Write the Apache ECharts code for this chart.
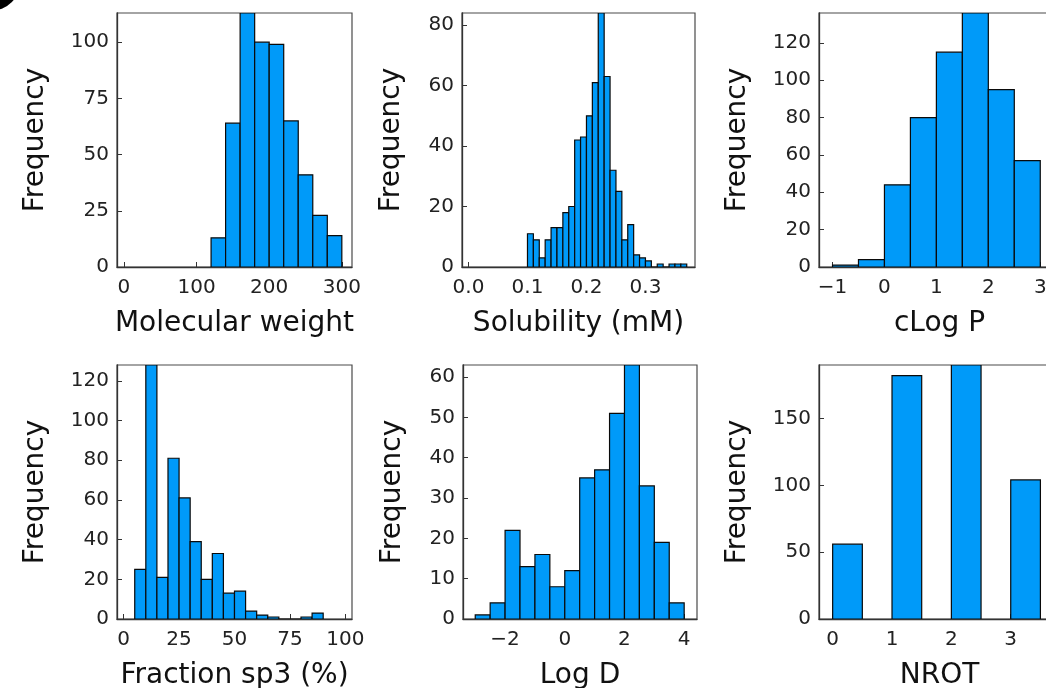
<!DOCTYPE html>
<html>
<head>
<meta charset="utf-8">
<title>Property distributions</title>
<script src="https://cdn.jsdelivr.net/npm/echarts@6/dist/echarts.min.js"></script>
<style>
  html, body { margin: 0; padding: 0; background: #ffffff; }
  #chart { width: 1046px; height: 688px; }
</style>
</head>
<body>
<div id="chart"></div>
<script>
// Histogram bin edges (n + 1 values) and counts (n values) per property
const mwEdges = [120, 140, 160, 180, 200, 220, 240, 260, 280, 300];
const mwCounts = [13, 64, 113, 100, 99, 65, 41, 23, 14];

const solEdges = [0.10, 0.11, 0.12, 0.13, 0.14, 0.15, 0.16, 0.17, 0.18, 0.19, 0.20, 0.21, 0.22, 0.23,
  0.24, 0.25, 0.26, 0.27, 0.28, 0.29, 0.30, 0.31, 0.32, 0.33, 0.34, 0.35, 0.36, 0.37];
const solCounts = [11, 9, 3, 9, 13, 13, 18, 20, 42, 43, 50, 61, 84, 63, 32, 25, 9, 14, 4, 3, 2, 0, 1, 0, 1, 1, 1];

const clogpEdges = [-1, -0.5, 0, 0.5, 1, 1.5, 2, 2.5, 3];
const clogpCounts = [1, 4, 44, 80, 115, 136, 95, 57];

const fsp3Edges = [5, 10, 15, 20, 25, 30, 35, 40, 45, 50, 55, 60, 65, 70, 75, 80, 85, 90];
const fsp3Counts = [25, 128, 21, 81, 61, 39, 20, 33, 13, 14, 4, 2, 1, 0, 0, 1, 3];

const logdEdges = [-3, -2.5, -2, -1.5, -1, -0.5, 0, 0.5, 1, 1.5, 2, 2.5, 3, 3.5, 4];
const logdCounts = [1, 4, 22, 13, 16, 8, 12, 35, 37, 51, 63, 33, 19, 4];

// NROT is discrete: each bar spans [left, right)
const nrotLeft = [0, 1, 2, 3];
const nrotRight = [0.5, 1.5, 2.5, 3.5];
const nrotCounts = [56, 182, 190, 104];

// Tick values
const mwXTicks = [0, 100, 200, 300];
const mwYTicks = [0, 25, 50, 75, 100];
const solXTicks = [0, 0.1, 0.2, 0.3];
const solYTicks = [0, 20, 40, 60, 80];
const clogpXTicks = [-1, 0, 1, 2, 3];
const clogpYTicks = [0, 20, 40, 60, 80, 100, 120];
const fsp3XTicks = [0, 25, 50, 75, 100];
const fsp3YTicks = [0, 20, 40, 60, 80, 100, 120];
const logdXTicks = [-2, 0, 2, 4];
const logdYTicks = [0, 10, 20, 30, 40, 50, 60];
const nrotXTicks = [0, 1, 2, 3];
const nrotYTicks = [0, 50, 100, 150];

function binsFromEdges(edges, counts) {
  return counts.map((c, i) => [edges[i], edges[i + 1], c]);
}
function binsFromBounds(lefts, rights, counts) {
  return counts.map((c, i) => [lefts[i], rights[i], c]);
}

const FONT = 'DejaVu Sans';
const BAR_FILL = '#009AF9';
const INK = '#222222';
const TICK_SIZE = 20;
const TITLE_SIZE = 28;

const panels = [
  { bins: binsFromEdges(mwEdges, mwCounts), xMin: -9.5, xMax: 314, xTicks: mwXTicks, yTicks: mwYTicks,
    xDigits: 0, xName: 'Molecular weight', grid: { left: 117, top: 13, width: 235, height: 254 }, yGap: 67 },
  { bins: binsFromEdges(solEdges, solCounts), xMin: -0.011, xMax: 0.384, xTicks: solXTicks, yTicks: solYTicks,
    xDigits: 1, xName: 'Solubility (mM)', grid: { left: 462, top: 13, width: 233, height: 254 }, yGap: 56 },
  { bins: binsFromEdges(clogpEdges, clogpCounts), xMin: -1.26, xMax: 3.38, xTicks: clogpXTicks, yTicks: clogpYTicks,
    xDigits: 0, xName: 'cLog P', grid: { left: 819, top: 13, width: 241, height: 254 }, yGap: 67 },
  { bins: binsFromEdges(fsp3Edges, fsp3Counts), xMin: -3, xMax: 103, xTicks: fsp3XTicks, yTicks: fsp3YTicks,
    xDigits: 0, xName: 'Fraction sp3 (%)', grid: { left: 117, top: 365, width: 235, height: 254 }, yGap: 67 },
  { bins: binsFromEdges(logdEdges, logdCounts), xMin: -3.41, xMax: 4.43, xTicks: logdXTicks, yTicks: logdYTicks,
    xDigits: 0, xName: 'Log D', grid: { left: 463, top: 365, width: 234, height: 254 }, yGap: 56 },
  { bins: binsFromBounds(nrotLeft, nrotRight, nrotCounts), xMin: -0.23, xMax: 3.83, xTicks: nrotXTicks, yTicks: nrotYTicks,
    xDigits: 0, xName: 'NROT', grid: { left: 819, top: 365, width: 241, height: 254 }, yGap: 67 }
];

function fmt(v, digits) {
  return v.toFixed(digits).replace('-', '\u2212');
}

function renderBar(params, api) {
  const top = api.coord([api.value(0), api.value(2)]);
  const base = api.coord([api.value(1), 0]);
  return {
    type: 'rect',
    shape: { x: top[0], y: top[1], width: base[0] - top[0], height: base[1] - top[1] },
    style: { fill: BAR_FILL, stroke: '#0a0a0a', lineWidth: 1.2 }
  };
}

const grids = [], xAxes = [], yAxes = [], series = [];
panels.forEach((p, i) => {
  const yMax = Math.max(...p.bins.map(b => b[2]));
  grids.push(Object.assign({
    show: true, borderColor: '#4a4a4a', borderWidth: 1.2, backgroundColor: 'transparent',
    containLabel: false, outerBoundsMode: 'none'
  }, p.grid));
  xAxes.push({
    type: 'value', gridIndex: i, min: p.xMin, max: p.xMax,
    name: p.xName, nameLocation: 'middle', nameGap: 43,
    nameTextStyle: { fontFamily: FONT, fontSize: TITLE_SIZE, color: '#111' },
    axisLine: { show: true, onZero: false, lineStyle: { color: '#333', width: 1.3 } },
    axisTick: { show: true, inside: true, length: 5, customValues: p.xTicks, lineStyle: { color: '#333' } },
    axisLabel: { show: true, margin: 11, fontFamily: FONT, fontSize: TICK_SIZE, color: INK,
      customValues: p.xTicks, formatter: v => fmt(v, p.xDigits) },
    splitLine: { show: false }
  });
  yAxes.push({
    type: 'value', gridIndex: i, min: 0, max: yMax,
    name: 'Frequency', nameLocation: 'middle', nameGap: p.yGap, nameRotate: 90,
    nameTextStyle: { fontFamily: FONT, fontSize: TITLE_SIZE, color: '#111' },
    axisLine: { show: true, onZero: false, lineStyle: { color: '#333', width: 1.3 } },
    axisTick: { show: true, inside: true, length: 5, customValues: p.yTicks, lineStyle: { color: '#333' } },
    axisLabel: { show: true, margin: 8, fontFamily: FONT, fontSize: TICK_SIZE, color: INK,
      customValues: p.yTicks, formatter: v => fmt(v, 0) },
    splitLine: { show: false }
  });
  series.push({
    type: 'custom', xAxisIndex: i, yAxisIndex: i, clip: true,
    renderItem: renderBar,
    encode: { x: [0, 1], y: 2 },
    data: p.bins
  });
});

const chart = echarts.init(document.getElementById('chart'), null, { renderer: 'canvas' });
chart.setOption({
  backgroundColor: '#ffffff',
  animation: false,
  textStyle: { fontFamily: FONT },
  graphic: [{ type: 'circle', shape: { cx: -10, cy: -20, r: 31 }, style: { fill: '#000' } }],
  grid: grids,
  xAxis: xAxes,
  yAxis: yAxes,
  series: series
});
</script>
</body>
</html>
